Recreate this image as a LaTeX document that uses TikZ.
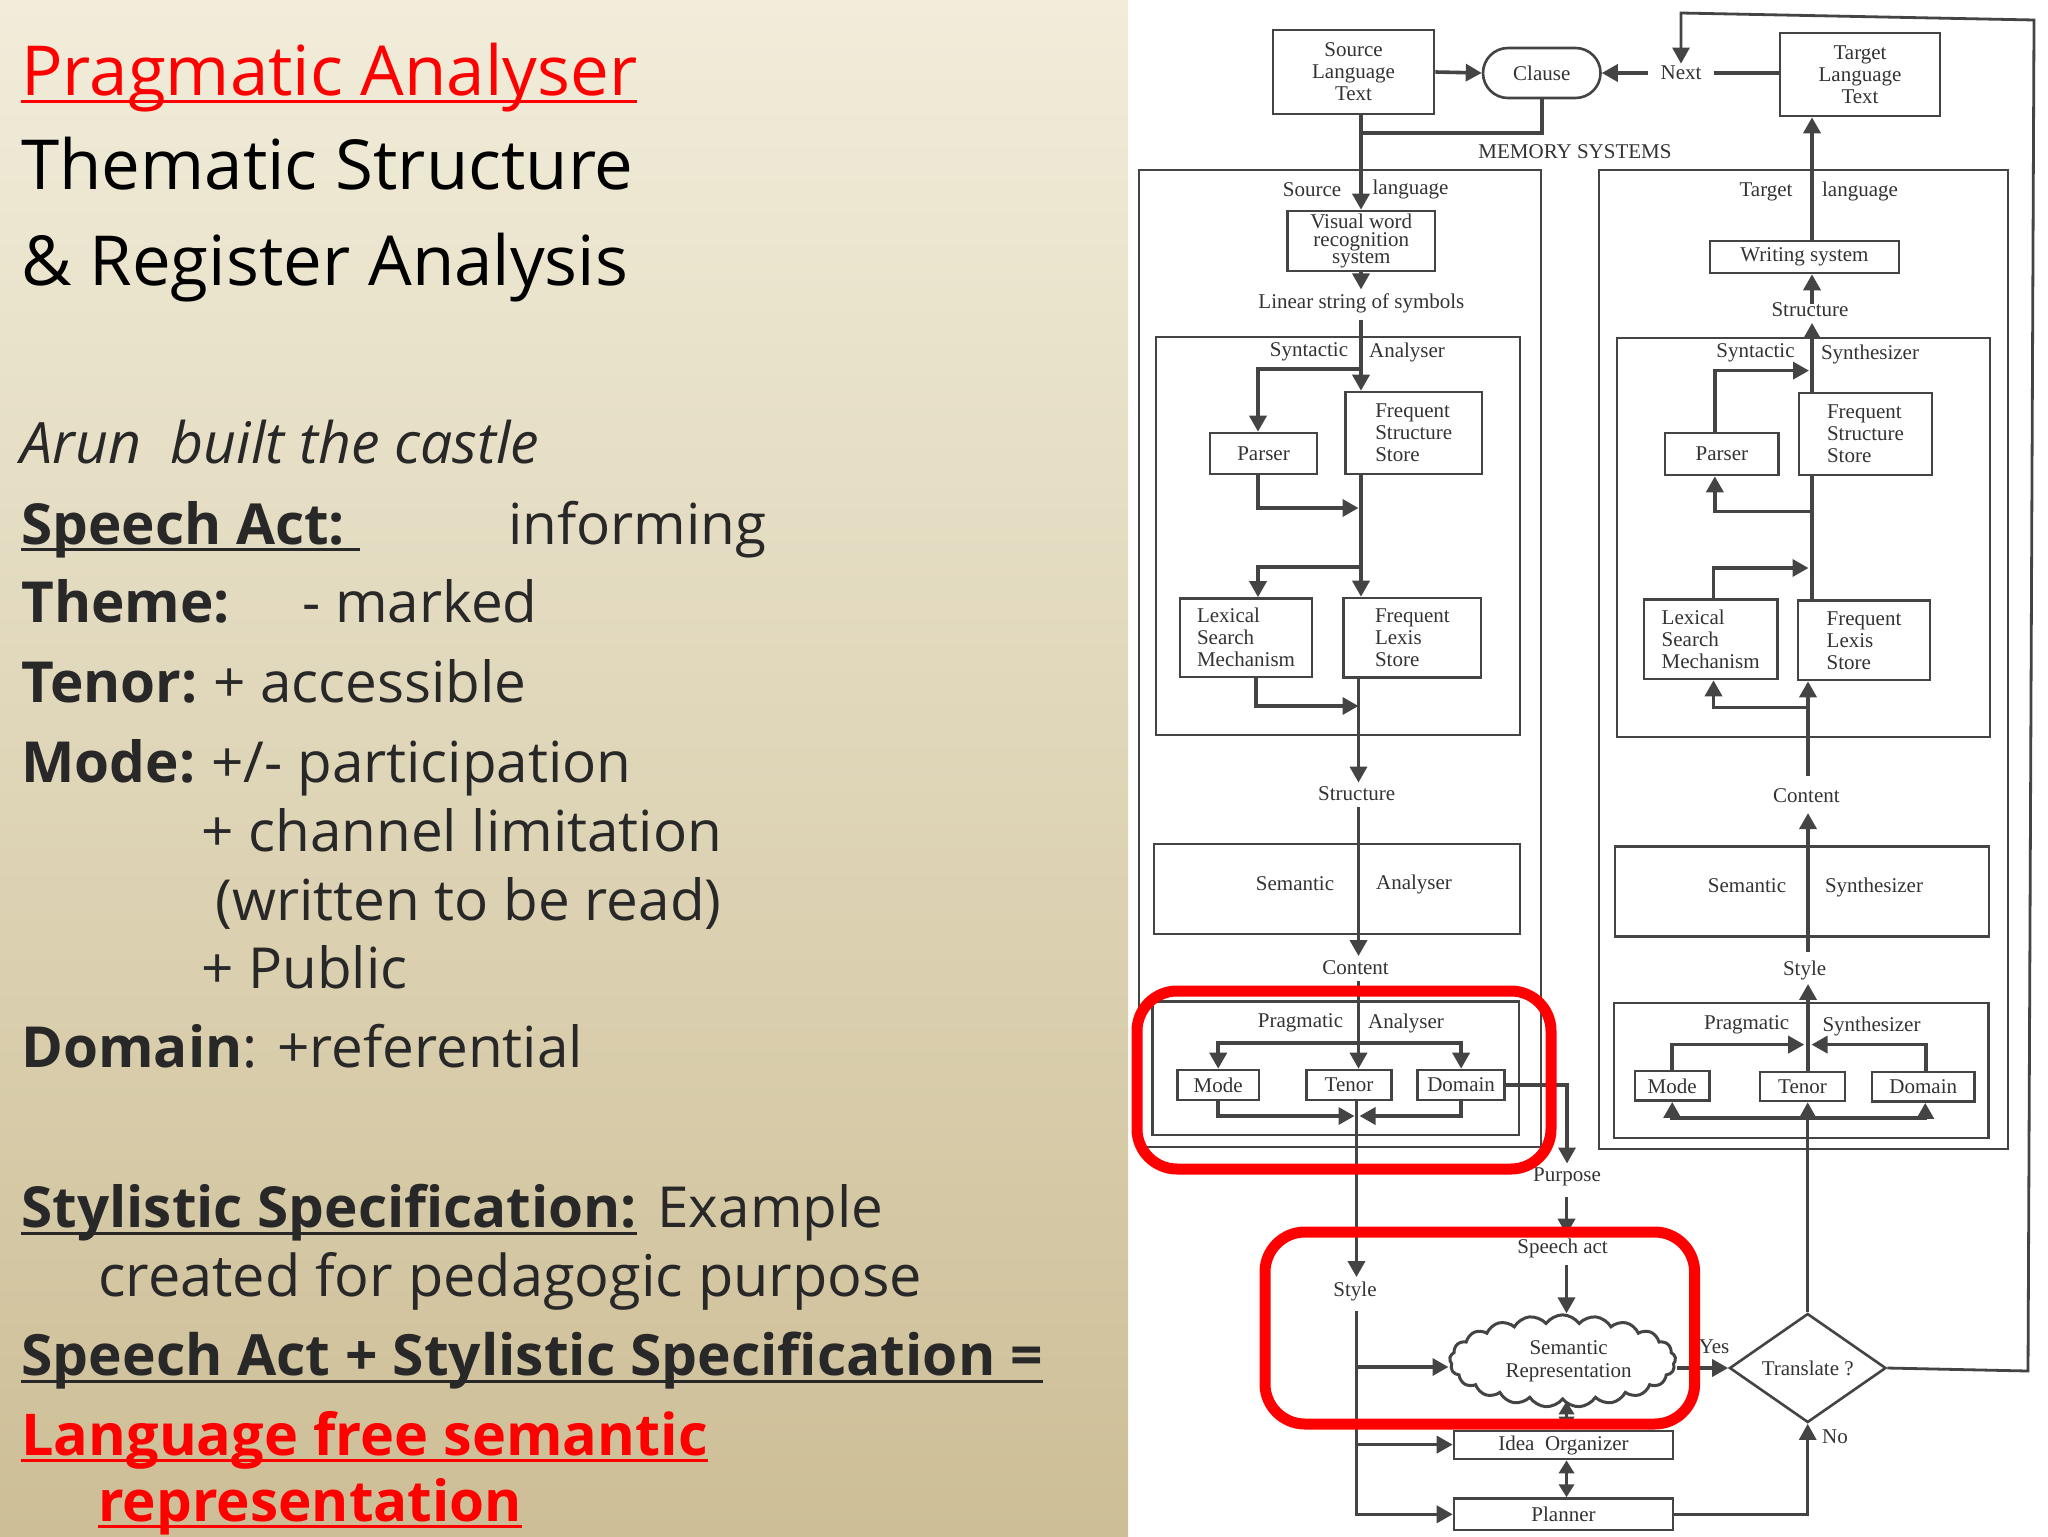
\documentclass[tikz,border=0pt]{standalone}
\usepackage{fontspec}
\setmainfont{Liberation Serif}
\newfontfamily\notos{Open Sans}
\usetikzlibrary{arrows.meta,shapes.geometric,shapes.symbols}
\definecolor{ink}{HTML}{444444}
\definecolor{txt}{HTML}{333333}
\definecolor{slate}{HTML}{282828}
\definecolor{bgtop}{RGB}{241,237,218}
\definecolor{bgbot}{RGB}{205,190,150}
\newsavebox\ulbox
\newcommand{\uline}[1]{\sbox\ulbox{#1}\rlap{\rule[-3.6pt]{\wd\ulbox}{1.4pt}}\usebox\ulbox}
\tikzset{
  x=0.5pt,y=-0.5pt,
  bx/.style n args={4}{at={({(#1+#3)/2},{(#2+#4)/2})},minimum width={(#3-#1)*0.5pt},minimum height={(#4-#2)*0.5pt}},
  dbox/.style={draw=ink,line width=1.3pt,inner sep=0pt,align=left,text=txt,font=\fontsize{10.5}{11}\selectfont},
  cbox/.style={dbox,align=center},
  lab/.style={inner sep=1pt,text=txt,font=\fontsize{10.5}{11}\selectfont},
  conn/.style={draw=ink,line width=1.8pt,-{Triangle[length=8pt,width=8.5pt]}},
  plain/.style={draw=ink,line width=1.8pt},
  both/.style={draw=ink,line width=1.8pt,{Triangle[length=6.5pt,width=7.5pt]}-{Triangle[length=6.5pt,width=7.5pt]}},
  redbox/.style={draw=red,line width=5.5pt,rounded corners=20pt,inner sep=0pt},
  hd/.style={anchor=base west,inner sep=0pt,font=\notos\fontsize{34.5}{34.5}\selectfont},
  bd/.style={anchor=base west,inner sep=0pt,text=slate,font=\notos\fontsize{28.3}{28.3}\selectfont},
  bdw/.style={bd,font=\notos\fontsize{28.8}{28.8}\selectfont},
}
\begin{document}
\begin{tikzpicture}
\useasboundingbox (0,0) rectangle (2048,1536);
\fill[white] (0,0) rectangle (2048,1536);
\shade[top color=bgtop,bottom color=bgbot] (0,0) rectangle (1128,1536);

% ---------- slide text
\node[hd,text=red] (h1) at (21,96) {\uline{Pragmatic Analyser}};
\node[hd] (h2) at (21,189) {Thematic Structure};
\node[hd] (h3) at (21,285) {\& Register Analysis};
\node[bd,font=\notos\itshape\fontsize{28.6}{28.6}\selectfont] (b1t) at (20,463) {Arun\ \ built the castle};
\node[bd] (b2t) at (21,544) {\uline{\bfseries Speech Act:\ }};
\node[bd] (b2v) at (508,544) {informing};
\node[bd] (b3t) at (21,622.5) {\textbf{Theme:}};
\node[bd] (b3v) at (302,622.5) {- marked};
\node[bd] (b4t) at (21,702) {\textbf{Tenor:}};
\node[bd] (b4v) at (213,702) {+ accessible};
\node[bd] (b5t) at (21,782) {\textbf{Mode:}};
\node[bd] (b5v) at (211,782) {+/- participation};
\node[bd] (b6t) at (201,851) {+ channel limitation};
\node[bd] (b7t) at (215,920) {(written to be read)};
\node[bd] (b8t) at (201,988) {+ Public};
\node[bd] (b9t) at (21,1067) {\textbf{Domain}: +referential};
\node[bd] (b10t) at (21,1227.5) {\uline{\bfseries Stylistic Specification:}};
\node[bd] (b10v) at (657,1227.5) {Example};
\node[bdw] (b11t) at (98,1296) {created for pedagogic purpose};
\node[bd,font=\notos\fontsize{28.45}{28.45}\selectfont] (b12t) at (21,1375.5) {\uline{\bfseries Speech Act + Stylistic Specification =}};
\node[bdw,text=red] (b13t) at (21,1455) {\uline{\bfseries Language free semantic}};
\node[bd,text=red] (b14t) at (98,1521) {\uline{\bfseries representation}};

% ---------- top
\node[cbox,bx={1273}{30}{1434}{114}] (src) {Source\\Language\\Text};
\node[cbox,rounded corners=12.5pt,bx={1483}{48}{1600.5}{98}] (clause) {Clause};
\node[lab] (next) at (1681,73) {Next};
\node[cbox,bx={1780}{33}{1940}{116}] (tgt) {Target\\Language\\Text};
\node[lab] (mem) at (1575,152) {MEMORY SYSTEMS};

% ---------- memory containers
\node[dbox,bx={1139}{170}{1541}{1147}] (memL) {};
\node[dbox,bx={1599}{170}{2008}{1149}] (memR) {};

% ---------- left column
\node[lab] (srcA) at (1312,190) {Source};
\node[lab] (srcB) at (1410.5,189) {language};
\node[cbox,font=\fontsize{10.5}{8.8}\selectfont,bx={1287.5}{211}{1435}{271}] (vis) {Visual word\\recognition\\system};
\node[lab] (lin) at (1361.4,303.5) {Linear string of symbols};
\node[dbox,bx={1156}{337}{1520}{735}] (synA) {};
\node[lab] (synA1) at (1309,352) {Syntactic};
\node[lab] (synA2) at (1407,352) {Analyser};
\node[dbox,bx={1210}{433}{1317}{474}] (parL) {Parser};
\node[dbox,bx={1345.5}{392}{1482}{474}] (fssL) {Frequent\\Structure\\Store};
\node[dbox,bx={1180}{598.5}{1312}{677}] (lexL) {Lexical\\Search\\Mechanism};
\node[dbox,bx={1343.7}{598}{1481}{677.6}] (flsL) {Frequent\\Lexis\\Store};
\node[lab] (strL) at (1356.7,794) {Structure};
\node[dbox,bx={1154}{844}{1520}{934}] (semL) {};
\node[lab] (semL1) at (1295,884) {Semantic};
\node[lab] (semL2) at (1414,884) {Analyser};
\node[lab] (conL) at (1355.5,967.5) {Content};
\node[dbox,bx={1152.5}{1001.6}{1519}{1135}] (praL) {};
\node[lab] (praL1) at (1300.5,1023) {Pragmatic};
\node[lab] (praL2) at (1406,1023) {Analyser};
\node[dbox,bx={1177.4}{1070}{1259}{1100}] (modL) {Mode};
\node[dbox,bx={1306.4}{1070}{1391.6}{1100}] (tenL) {Tenor};
\node[dbox,bx={1417.6}{1070}{1504.6}{1100}] (domL) {Domain};
\node[lab] (styL) at (1355,1291) {Style};

% ---------- right column
\node[lab] (tgtA) at (1766,191.5) {Target};
\node[lab] (tgtB) at (1860,191.5) {language};
\node[dbox,bx={1710}{241}{1899}{273}] (wri) {Writing system};
\node[lab] (strR) at (1810,309.5) {Structure};
\node[dbox,bx={1617}{338}{1990}{737}] (synR) {};
\node[lab] (synR1) at (1755.5,353) {Syntactic};
\node[lab] (synR2) at (1870,354) {Synthesizer};
\node[dbox,bx={1665}{433}{1778.6}{475}] (parR) {Parser};
\node[dbox,bx={1799}{393}{1932}{475}] (fssR) {Frequent\\Structure\\Store};
\node[dbox,bx={1644}{599.5}{1777.4}{679}] (lexR) {Lexical\\Search\\Mechanism};
\node[dbox,bx={1798}{600.5}{1930}{680}] (flsR) {Frequent\\Lexis\\Store};
\node[lab] (conR) at (1806.4,795.6) {Content};
\node[dbox,bx={1615}{846.6}{1989}{936.7}] (semR) {};
\node[lab] (semR1) at (1747,886) {Semantic};
\node[lab] (semR2) at (1874,887) {Synthesizer};
\node[lab] (styR) at (1804.6,970) {Style};
\node[dbox,bx={1614}{1003}{1988.7}{1138}] (praR) {};
\node[lab] (praR1) at (1746.7,1025) {Pragmatic};
\node[lab] (praR2) at (1871.5,1026) {Synthesizer};
\node[dbox,bx={1635}{1071}{1709.4}{1100.6}] (modR) {Mode};
\node[dbox,bx={1760}{1072}{1845}{1101}] (tenR) {Tenor};
\node[dbox,bx={1872}{1072}{1974.5}{1101.6}] (domR) {Domain};

% ---------- bottom
\node[lab] (pur) at (1567,1177) {Purpose};
\node[lab] (spa) at (1562.6,1248.6) {Speech act};
\node[draw=ink,line width=1.5pt,cloud,cloud puffs=21,cloud puff arc=110,aspect=2.5,inner sep=0pt,
      minimum width=113pt,minimum height=44pt,align=center,text=txt,font=\fontsize{10.5}{11.5}\selectfont]
      (cld) at (1562.6,1361) {\hspace*{6pt}Semantic\\\hspace*{6pt}Representation};
\node[cbox,bx={1454}{1431}{1673}{1459}] (idea) {Idea\ \ Organizer};
\node[cbox,bx={1454}{1498.6}{1673}{1530}] (plan) {Planner};
\node[draw=ink,line width=1.3pt,diamond,aspect=1.44,inner sep=0pt,minimum width=78.25pt,minimum height=54.5pt,text=txt,font=\fontsize{10.5}{11}\selectfont]
      (dia) at (1807.7,1368) {Translate ?};
\node[lab] (yes) at (1714,1347) {Yes};
\node[lab] (no) at (1835,1437) {No};

% ---------- guide coordinates
\coordinate (sp) at (1361,0);
\coordinate (j1) at (1362,133);
\coordinate (bA) at (1361,369);
\coordinate (mA) at (1358.5,508);
\coordinate (bB) at (1361,567);
\coordinate (mB) at (1358.5,706);
\coordinate (xS) at (1358.5,0);
\coordinate (bC) at (1358,1042.7);
\coordinate (mC) at (1354.5,1116);
\coordinate (mD) at (1359.5,1116);
\coordinate (xT) at (1356.5,0);
\coordinate (bS1) at (1356.5,1367);
\coordinate (bS2) at (1356.5,1444.6);
\coordinate (xP) at (1566.5,0);
\coordinate (rt) at (1812,0);
\coordinate (mE) at (1809,370.6);
\coordinate (bE) at (1811,511.4);
\coordinate (mF) at (1808.5,568);
\coordinate (bF) at (1809,707.5);
\coordinate (xC) at (1808,0);
\coordinate (mG) at (1804.2,1044.6);
\coordinate (mH) at (1811.5,1044.6);
\coordinate (bG) at (1807,1118);
\coordinate (r1) at (2028,1371);
\coordinate (r2) at (2034,20);
\coordinate (r3) at (1681,13);

% ---------- connectors, left
\draw[conn] (src.east) -- (clause.west);
\draw[conn] ([xshift=-5pt]next.west) -- (clause.east);
\draw[plain] ([xshift=5pt]next.east) -- (tgt.west |- next.east);
\draw[plain] (clause.south) |- (j1);
\draw[conn] (src.south -| sp) -- (vis.north -| sp);
\draw[conn] (vis.south -| sp) -- ([yshift=1pt]lin.north -| sp);
\draw[conn] ([yshift=-2pt]lin.south -| sp) -- (fssL.north -| sp);
\draw[conn] (bA) -| ([xshift=-2.75pt]parL.north);
\draw[conn] ([xshift=-2.75pt]parL.south) |- (mA);
\draw[conn] (fssL.south -| sp) -- (flsL.north -| sp);
\draw[conn] (bB) -| ([xshift=6pt]lexL.north);
\draw[conn] ([xshift=5pt]lexL.south) |- (mB);
\draw[conn] (flsL.south -| xS) -- ([yshift=1pt]strL.north -| xS);
\draw[conn] ([yshift=-2pt]strL.south -| xS) -- ([yshift=1pt]conL.north -| xS);
\draw[conn] ([yshift=-2pt]conL.south -| xS) -- (tenL.north -| xS);
\draw[conn] (bC) -| (modL.north);
\draw[conn] (bC) -| (domL.north);
\draw[conn] (modL.south) |- (mC);
\draw[conn] (domL.south) |- (mD);
\draw[conn] (tenL.south -| xT) -- ([yshift=1pt]styL.north -| xT);
\draw[conn] ([yshift=-4pt]styL.south -| xT) |- (plan.west);
\draw[conn] (bS1) -- (bS1 -| cld.west);
\draw[conn] (bS2) -- (bS2 -| idea.west);
\draw[conn] (domL.east) -| ([yshift=1pt]pur.north);
\draw[conn] ([yshift=-4pt]pur.south -| xP) -- ([yshift=1pt]spa.north -| xP);
\draw[conn] ([yshift=-2pt]spa.south -| xP) -- (cld.north -| xP);
\draw[both] (cld.south -| xP) -- (idea.north -| xP);
\draw[both] (idea.south -| xP) -- (plan.north -| xP);
\draw[conn] (cld.east |- dia.west) -- (dia.west);
\draw[conn,line width=1.4pt] (plan.east) -| (dia.south);
\draw[conn,line width=1.4pt] (dia.east) -- (r1) -- (r2) -- (r3) -- (next.north);

% ---------- connectors, right
\draw[conn] (wri.north -| rt) -- (tgt.south -| rt);
\draw[conn] ([yshift=-2pt]strR.north -| rt) -- (wri.south -| rt);
\draw[conn] (fssR.north -| rt) -- ([yshift=-2pt]strR.south -| rt);
\draw[plain] (fssR.south -| rt) -- (flsR.north -| rt);
\draw[conn] ([xshift=-3.5pt]parR.north) |- (mE);
\draw[conn] (bE) -| ([xshift=-3.5pt]parR.south);
\draw[conn] ([xshift=1.4pt]lexR.north) |- (mF);
\draw[conn] ([yshift=5pt]conR.north -| xC) -- (flsR.south -| xC);
\draw[conn] (bF) -| ([xshift=1.4pt]lexR.south);
\draw[conn] ([yshift=3pt]styR.north -| xC) -- ([yshift=-4pt]conR.south -| xC);
\draw[conn] (tenR.north -| xC) -- ([yshift=-1pt]styR.south -| xC);
\draw[conn] (modR.north) |- (mG);
\draw[conn] ([xshift=1.5pt]domR.north) |- (mH);
\draw[conn] (bG) -| (modR.south);
\draw[conn] (bG) -| ([xshift=1pt]domR.south);
\draw[conn,line width=1.4pt] (dia.north) -- (tenR.south -| dia.north);

% ---------- red highlights
\node[redbox,bx={1137}{991}{1551}{1169}] (red1) {};
\node[redbox,bx={1265}{1232}{1694.6}{1424}] (red2) {};
\end{tikzpicture}
\end{document}
